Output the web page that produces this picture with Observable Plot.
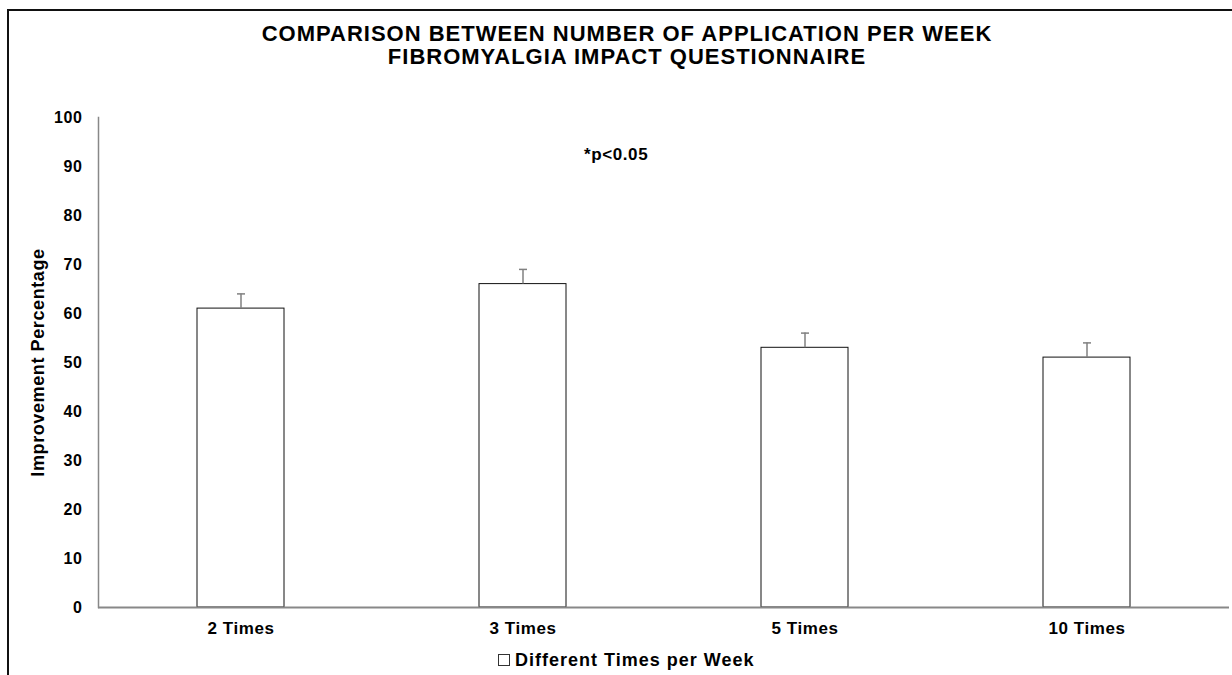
<!DOCTYPE html>
<html>
<head>
<meta charset="utf-8">
<script src="https://cdn.jsdelivr.net/npm/d3@7"></script>
<script src="https://cdn.jsdelivr.net/npm/@observablehq/plot@0.6"></script>
<style>
  html, body { margin: 0; padding: 0; background: #fff; width: 1232px; height: 675px; overflow: hidden; }
  body { position: relative; font-family: "Liberation Sans", Arial, sans-serif; }
  #border { position: absolute; left: 7px; top: 9px; width: 1240px; height: 700px; border: 2px solid #111; box-sizing: border-box; }
  #title { position: absolute; left: 0; width: 1254px; top: 22px; text-align: center; font-weight: bold; font-size: 22px; letter-spacing: 1px; line-height: 23px; color: #000; }
  #note { position: absolute; left: 584px; top: 145px; font-weight: bold; font-size: 17px; letter-spacing: 0.6px; color: #000; }
  #legend { position: absolute; left: 498px; top: 650px; font-weight: bold; font-size: 18px; letter-spacing: 1px; color: #000; white-space: nowrap; }
  #legend .sw { display: inline-block; width: 10px; height: 10px; border: 1px solid #333; background: #fff; margin-right: 5px; vertical-align: 0px; }
  #chart { position: absolute; left: 0; top: 0; }
  #chart svg text { letter-spacing: 0.6px; }
</style>
</head>
<body>
<div id="border"></div>
<div id="chart"></div>
<div id="title">COMPARISON BETWEEN NUMBER OF APPLICATION PER WEEK<br>FIBROMYALGIA IMPACT QUESTIONNAIRE</div>
<div id="note">*p&lt;0.05</div>
<div id="legend"><span class="sw"></span>Different Times per Week</div>
<script>
const categories = ["2 Times", "3 Times", "5 Times", "10 Times"];
const improvement = [61, 66, 53, 51];
const errors = [3, 3, 3, 3];
const yTicks = [0, 10, 20, 30, 40, 50, 60, 70, 80, 90, 100];

const data = categories.map((c, i) => ({cat: c, v: improvement[i], e: errors[i]}));

const cap = { draw(ctx) { ctx.moveTo(-4, 0); ctx.lineTo(4, 0); } };

const chart = Plot.plot({
  width: 1232,
  height: 675,
  marginTop: 117,
  marginBottom: 68,
  marginLeft: 98,
  marginRight: 3,
  style: { fontFamily: "Liberation Sans, Arial, sans-serif", fontSize: "17px", fontWeight: "bold", color: "#000", background: "transparent" },
  x: { domain: categories, paddingInner: 0.69, paddingOuter: 0.345, align: 0.5, label: null },
  y: { domain: [0, 100], label: null },
  marks: [
    Plot.barY(data, { x: "cat", y: "v", fill: "white", stroke: "#111", strokeWidth: 1 }),
    Plot.ruleX(data, { x: "cat", y1: "v", y2: d => d.v + d.e, stroke: "#808080", strokeWidth: 1.5 }),
    Plot.dot(data, { x: "cat", y: d => d.v + d.e, symbol: cap, stroke: "#808080", strokeWidth: 1.5, r: 4 }),
    Plot.frame({ anchor: "left", stroke: "#888", strokeWidth: 1.5 }),
    Plot.ruleY([0], { stroke: "#888", strokeWidth: 2 }),
    Plot.axisY({ ticks: yTicks, tickSize: 0, tickPadding: 16, fill: "#000", fontWeight: "bold", fontSize: 16, label: null }),
    Plot.axisX({ tickSize: 0, tickPadding: 14, fill: "#000", fontWeight: "bold", fontSize: 17, label: null }),
    Plot.text(["Improvement Percentage"], { frameAnchor: "left", textAnchor: "middle", dx: -60, rotate: -90, fontWeight: "bold", fontSize: 18, fill: "#000" })
  ]
});
document.getElementById("chart").appendChild(chart);
</script>
</body>
</html>
